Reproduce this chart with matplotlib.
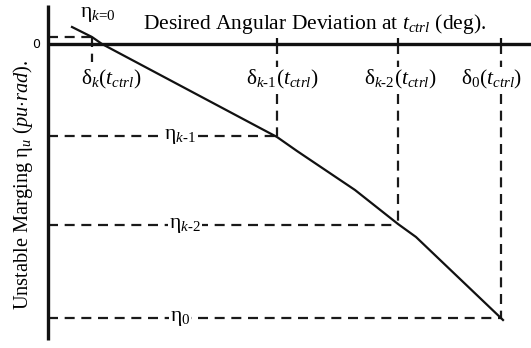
import matplotlib
matplotlib.use("Agg")
import matplotlib.pyplot as plt

plt.rcParams["font.family"] = ["Liberation Serif", "DejaVu Serif"]
plt.rcParams["mathtext.fontset"] = "custom"
plt.rcParams["mathtext.rm"] = "Liberation Serif"
plt.rcParams["mathtext.it"] = "Liberation Serif:italic"
plt.rcParams["mathtext.bf"] = "Liberation Serif:bold"

# Angular deviation (x) and unstable margin (y) curve, arbitrary units
curve_x = [2.4, 4.4, 5.4, 21.2, 22.9, 24.9, 30.7, 35.0, 36.8, 45.5]
curve_y = [1.7, 0.7, 0.0, -8.4, -9.3, -10.7, -14.6, -18.0, -19.3, -27.6]

# Operating points: delta values on x, eta values on y
delta_vals = [4.4, 22.9, 35.0, 45.3]
eta_vals = [0.7, -9.2, -18.1, -27.4]
delta_labels = [r"$\mathrm{\delta}_{k}(t_{ctrl})$",
                r"$\mathrm{\delta}_{k\text{-}1}(t_{ctrl})$",
                r"$\mathrm{\delta}_{k\text{-}2}(t_{ctrl})$",
                r"$\mathrm{\delta}_{0}(t_{ctrl})$"]
eta_labels = [r"$\mathrm{\eta}_{k\text{=}0}$",
              r"$\mathrm{\eta}_{k\text{-}\mathrm{1}}$",
              r"$\mathrm{\eta}_{k\text{-}2}$",
              r"$\mathrm{\eta}_{0}$"]

W, H = 531, 348
fig = plt.figure(figsize=(W / 100, H / 100), dpi=100)
ax = fig.add_axes([0, 0, 1, 1])
ax.set_xlim(-4.8, 48.3)
ax.set_ylim(-30.4, 4.4)
ax.axis("off")

fs = 15.5
dash = dict(color="#1a1a1a", lw=1.6, ls=(0, (4.5, 3)), zorder=2)

# axes
ax.plot([0, 0], [3.9, -29.6], color="#111111", lw=2.4, zorder=4, solid_capstyle="butt")
ax.plot([0, 48.3], [0, 0], color="#111111", lw=2.4, zorder=4, solid_capstyle="butt")

# guide lines for each operating point
ax.plot([0, delta_vals[0]], [eta_vals[0], eta_vals[0]], **dash)
ax.plot([delta_vals[0], delta_vals[0]], [eta_vals[0], -1.8], **dash)
for dx, ey in zip(delta_vals[1:], eta_vals[1:]):
    ax.plot([0, dx], [ey, ey], **dash)
    ax.plot([dx, dx], [0, ey], **dash)
    ax.plot([dx, dx], [0, 0.6], color="#111111", lw=1.6, zorder=4,
            solid_capstyle="butt")

# curve
ax.plot(curve_x, curve_y, color="#111111", lw=1.6, zorder=5)

# labels
bb = dict(facecolor="white", edgecolor="none", pad=0.5)
ax.text(5.0, 3.0, eta_labels[0], fontsize=fs, ha="center", va="center")
for y, lab, cx in zip(eta_vals[1:], eta_labels[1:], [13.2, 13.7, 13.2]):
    ax.text(cx, y, lab, fontsize=fs, ha="center", va="center", bbox=bb, zorder=3)
for lab, cx in zip(delta_labels, [6.3, 23.4, 35.2, 44.4]):
    ax.text(cx, -3.5, lab, fontsize=fs, ha="center", va="center", bbox=bb, zorder=3)

ax.text(26.7, 2.0, r"Desired Angular Deviation at $t_{ctrl}$ (deg).",
        fontsize=fs, ha="center", va="center")
ax.text(-0.8, 0, "0", fontsize=9, ha="right", va="center", family="DejaVu Sans")
ax.text(-2.5, -14.1, r"Unstable Marging $\mathrm{\eta}_{u}$ $\mathit{(pu{\cdot}rad)}$.",
        fontsize=14.7, ha="center", va="center", rotation=90)

fig.savefig("out.png", dpi=100)
